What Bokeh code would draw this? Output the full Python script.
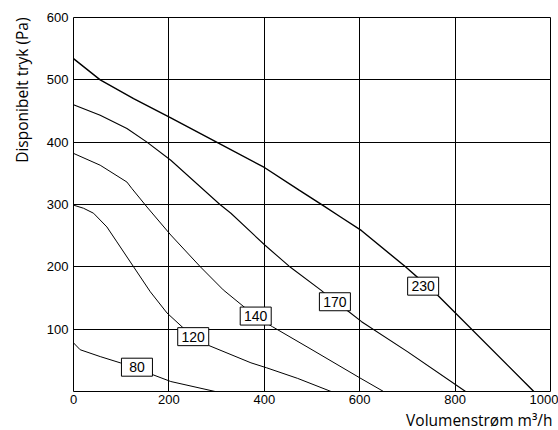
from bokeh.plotting import figure
from bokeh.models import Range1d, Title
from bokeh.core.properties import value
from bokeh.embed import file_html
from bokeh.resources import INLINE

# ---- data ----
x_ticks = [0, 200, 400, 600, 800, 1000]
y_ticks = [100, 200, 300, 400, 500, 600]

flow_80 = [0, 14, 56, 98, 133, 166, 204, 297]
p_80 = [78, 67, 56, 46, 39, 27, 16, 0]

flow_120 = [0, 21, 42, 70, 91, 126, 161, 196, 250, 283, 372, 405, 470, 540]
p_120 = [299, 294, 286, 264, 240, 200, 160, 126, 88, 74, 46, 38, 21, 0]

flow_140 = [0, 56, 112, 122, 154, 204, 266, 314, 381, 417, 500, 600, 650]
p_140 = [382, 363, 336, 326, 296, 251, 200, 163, 121, 104, 67, 22, 0]

flow_170 = [0, 56, 112, 154, 204, 307, 330, 401, 452, 518, 548, 574, 604, 700, 822]
p_170 = [460, 443, 422, 400, 371, 300, 286, 235, 201, 163, 144, 130, 112, 64, 0]

flow_230 = [0, 56, 126, 204, 300, 401, 473, 522, 560, 604, 696, 763, 965]
p_230 = [534, 500, 470, 439, 400, 359, 323, 299, 280, 258, 200, 155, 0]

label_text = ["80", "120", "140", "170", "230"]
label_x = [133, 251, 382, 548, 733]
label_y = [39, 88, 121, 144, 169]

y_title = "Disponibelt tryk (Pa)"
x_title = "Volumenstrøm m³/h"

# ---- figure ----
p = figure(width=558, height=430, output_backend="svg", toolbar_location=None,
           title=None, x_range=Range1d(0, 1000), y_range=Range1d(0, 600),
           min_border_left=73, min_border_right=8, min_border_top=17,
           min_border_bottom=38)

p.xaxis.ticker = x_ticks
p.yaxis.ticker = y_ticks
for ax in (p.xaxis, p.yaxis):
    ax.major_tick_line_color = None
    ax.minor_tick_line_color = None
    ax.major_tick_in = 0
    ax.major_tick_out = 0
    ax.minor_tick_out = 0
    ax.axis_line_color = None
    ax.major_label_text_font = "Liberation Sans"
    ax.major_label_text_font_size = "13px"
    ax.major_label_text_color = "black"
p.yaxis.major_label_standoff = 5
p.xaxis.major_label_standoff = 3

p.add_layout(Title(text=x_title, align="right", text_font="Open Sans",
                   text_font_size="15.5px", text_font_style="normal",
                   text_color="black", standoff=0, offset=-2), "below")
p.add_layout(Title(text=y_title, align="right", vertical_align="top",
                   text_font="Open Sans", text_font_size="15.5px",
                   text_font_style="normal", text_color="black",
                   standoff=18, offset=0), "left")

p.grid.grid_line_color = "black"
p.grid.grid_line_width = 1
p.outline_line_color = "black"
p.outline_line_width = 1
p.outline_line_alpha = 1

for xs, ys, w in [(flow_80, p_80, 1.0), (flow_120, p_120, 1.0),
                  (flow_140, p_140, 1.0), (flow_170, p_170, 1.1),
                  (flow_230, p_230, 1.4)]:
    p.line(xs, ys, line_color="black", line_width=w)

p.rect(x=label_x, y=label_y, width=31, height=18, width_units="screen",
       height_units="screen", fill_color="white", line_color="black",
       line_width=1)
p.text(x=label_x, y=label_y, text=label_text, text_align="center",
       text_baseline="middle", text_font=value("Liberation Sans"),
       text_font_size="14px", text_color="black")

open("out.html", "w").write(file_html(p, INLINE))
